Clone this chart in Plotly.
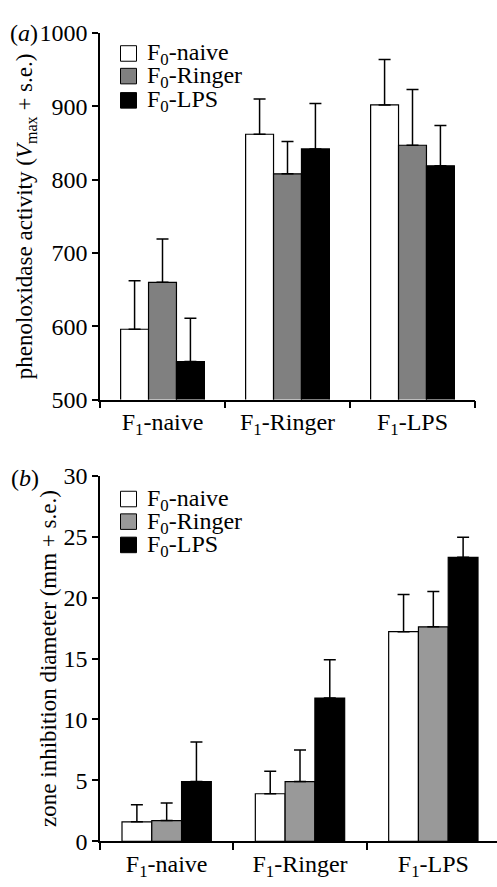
import plotly.graph_objects as go

# ---- data ----
categories = ["F<sub>1</sub>-naive", "F<sub>1</sub>-Ringer", "F<sub>1</sub>-LPS"]
series_names = ["F<sub>0</sub>-naive", "F<sub>0</sub>-Ringer", "F<sub>0</sub>-LPS"]

# panel (a): phenoloxidase activity
po_f0_naive = [596, 862, 902]
po_f0_ringer = [660, 808, 847]
po_f0_lps = [552, 842, 819]
po_se_f0_naive = [66, 48, 62]
po_se_f0_ringer = [59, 44, 76]
po_se_f0_lps = [59, 62, 55]

# panel (b): zone inhibition diameter
zi_f0_naive = [1.6, 3.9, 17.2]
zi_f0_ringer = [1.7, 4.9, 17.6]
zi_f0_lps = [4.9, 11.75, 23.3]
zi_se_f0_naive = [1.4, 1.85, 3.05]
zi_se_f0_ringer = [1.45, 2.6, 2.9]
zi_se_f0_lps = [3.25, 3.15, 1.65]

colors_a = ["white", "#808080", "black"]
colors_b = ["white", "#999999", "black"]

FONT = "Liberation Serif, Times New Roman, serif"
W, H = 497, 887

fig = go.Figure()

def px_x(px, left=100, width=397):
    return (px - left) / width

def px_y(py):
    return 1 - py / H

vals_a = [po_f0_naive, po_f0_ringer, po_f0_lps]
se_a = [po_se_f0_naive, po_se_f0_ringer, po_se_f0_lps]
vals_b = [zi_f0_naive, zi_f0_ringer, zi_f0_lps]
se_b = [zi_se_f0_naive, zi_se_f0_ringer, zi_se_f0_lps]

for i in range(3):
    fig.add_trace(go.Bar(
        x=categories, y=vals_a[i], name=series_names[i],
        marker=dict(color=colors_a[i], line=dict(color="black", width=1.2)),
        error_y=dict(type="data", array=se_a[i], arrayminus=[0, 0, 0],
                     symmetric=False, color="black", thickness=1.5, width=6),
        xaxis="x", yaxis="y", showlegend=False,
    ))
for i in range(3):
    fig.add_trace(go.Bar(
        x=categories, y=vals_b[i], name=series_names[i],
        marker=dict(color=colors_b[i], line=dict(color="black", width=1.2)),
        error_y=dict(type="data", array=se_b[i], arrayminus=[0, 0, 0],
                     symmetric=False, color="black", thickness=1.5, width=6),
        xaxis="x2", yaxis="y2", showlegend=False,
    ))

axis_common = dict(showline=True, linecolor="black", linewidth=1.5,
                   showgrid=False, zeroline=False, ticks="outside",
                   tickcolor="black", tickwidth=1.5,
                   tickfont=dict(family=FONT, size=24, color="black"))

fig.update_layout(
    width=W, height=H,
    margin=dict(l=100, r=0, t=0, b=0),
    paper_bgcolor="white", plot_bgcolor="white",
    barmode="group", bargap=0.33, bargroupgap=0,
    font=dict(family=FONT, color="black", size=23),
    showlegend=False,
    xaxis=dict(axis_common, type="category", domain=[0, 375 / 397],
               range=[-0.5, 2.5], tickson="boundaries", ticklen=7,
               anchor="y"),
    yaxis=dict(axis_common, domain=[px_y(398.3), px_y(20.7)],
               range=[500, 1000], dtick=100, ticklen=6, anchor="x",
               title=dict(text="phenoloxidase activity (<i>V</i><sub>max</sub> + s.e.)",
                          font=dict(family=FONT, size=23), standoff=0)),
    xaxis2=dict(axis_common, type="category", domain=[0, 1],
                range=[-0.5, 2.4775], tickson="boundaries", ticklen=7,
                anchor="y2"),
    yaxis2=dict(axis_common, domain=[px_y(853.3), px_y(476.7)],
                range=[0, 30], dtick=5, ticklen=6, anchor="x2",
                title=dict(text="zone inhibition diameter (mm + s.e.)",
                           font=dict(family=FONT, size=23), standoff=0)),
)

# manual legends (tight row spacing as in the reference)
legend_rows = [(41.7, 65.0, 90.0), (500.7, 524.0, 548.0)]
legend_colors = [colors_a, colors_b]
for rows, cols in zip(legend_rows, legend_colors):
    for yc, col, name in zip(rows, cols, series_names):
        fig.add_shape(type="rect", xref="paper", yref="paper",
                      x0=px_x(120.5), x1=px_x(136.5),
                      y0=px_y(yc + 8), y1=px_y(yc - 8),
                      fillcolor=col, line=dict(color="black", width=1))
        fig.add_annotation(text=name, xref="paper", yref="paper",
                           x=px_x(145), y=px_y(yc + 1), xanchor="left",
                           yanchor="middle", showarrow=False,
                           font=dict(family=FONT, size=24))

fig.add_annotation(text="(<i>a</i>)", xref="paper", yref="paper",
                   x=px_x(8), y=px_y(21), xanchor="left", yanchor="middle",
                   showarrow=False, font=dict(family=FONT, size=24))
fig.add_annotation(text="(<i>b</i>)", xref="paper", yref="paper",
                   x=px_x(9), y=px_y(479), xanchor="left", yanchor="middle",
                   showarrow=False, font=dict(family=FONT, size=24))

fig.write_html("out.html")
